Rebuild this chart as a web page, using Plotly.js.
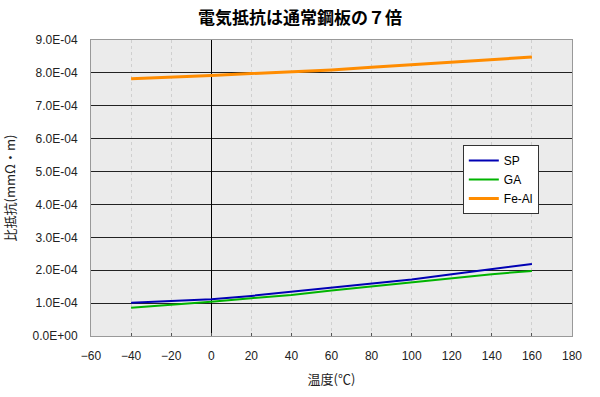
<!DOCTYPE html>
<html><head><meta charset="utf-8">
<script src="https://cdn.plot.ly/plotly-3.0.1.min.js"></script>
<style>html,body{margin:0;padding:0;background:#fff}#c{width:600px;height:397px}</style>
</head><body><div id="c"></div>
<script>
const temps = [-40, -20, 0, 20, 40, 60, 80, 100, 120, 140, 160];
const sp   = [1.01e-4, 1.06e-4, 1.12e-4, 1.22e-4, 1.35e-4, 1.47e-4, 1.60e-4, 1.72e-4, 1.88e-4, 2.03e-4, 2.19e-4];
const ga   = [0.86e-4, 0.94e-4, 1.04e-4, 1.15e-4, 1.25e-4, 1.38e-4, 1.51e-4, 1.64e-4, 1.77e-4, 1.88e-4, 1.98e-4];
const feal = [7.82e-4, 7.86e-4, 7.92e-4, 7.98e-4, 8.03e-4, 8.09e-4, 8.17e-4, 8.25e-4, 8.32e-4, 8.40e-4, 8.48e-4];
const yTickVals = [0, 1e-4, 2e-4, 3e-4, 4e-4, 5e-4, 6e-4, 7e-4, 8e-4, 9e-4];
const yTickText = ['0.0E+00','1.0E-04','2.0E-04','3.0E-04','4.0E-04','5.0E-04','6.0E-04','7.0E-04','8.0E-04','9.0E-04'];
const xTickVals = [-60,-40,-20,0,20,40,60,80,100,120,140,160,180];

const traces = [
  {x: temps, y: sp, name: 'SP', mode: 'lines', line: {color: '#0000b4', width: 2}},
  {x: temps, y: ga, name: 'GA', mode: 'lines', line: {color: '#00b400', width: 2}},
  {x: temps, y: feal, name: 'Fe-Al', mode: 'lines', line: {color: '#ff8c00', width: 3}}
];
const jp = "'Noto Sans CJK JP', 'DejaVu Sans', sans-serif";
const num = "'Liberation Sans', Arial, sans-serif";
const layout = {
  width: 600, height: 397,
  margin: {l: 91, r: 28, t: 40, b: 61},
  paper_bgcolor: '#ffffff', plot_bgcolor: '#ebebeb',
  font: {family: num, size: 12, color: '#222'},
  title: {text: '<b>電気抵抗は通常鋼板の７倍</b>', x: 0.5, xanchor: 'center', y: 0.955, yanchor: 'middle', font: {size: 17, color: '#000', family: jp}},
  showlegend: true,
  legend: {x: 0.773, y: 0.645, xanchor: 'left', yanchor: 'top', bgcolor: '#ffffff', bordercolor: '#333', borderwidth: 1, font: {size: 12, color: '#000', family: num}, tracegroupgap: 0},
  xaxis: {
    range: [-60, 180], tickvals: xTickVals, ticks: 'inside', ticklen: 3, tickcolor: '#555', ticklabelstandoff: 9,
    showgrid: true, gridcolor: '#cfcfcf', griddash: '3px,3px', gridwidth: 1,
    zeroline: true, zerolinecolor: '#000', zerolinewidth: 1,
    showline: true, linecolor: '#999', mirror: true, linewidth: 1,
    tickfont: {size: 12, color: '#222', family: num},
    title: {text: '温度(℃)', font: {size: 13, color: '#222', family: jp}, standoff: 12}
  },
  yaxis: {
    range: [0, 9e-4], tickvals: yTickVals, ticktext: yTickText, ticks: '', ticklabelstandoff: 10,
    showgrid: true, gridcolor: '#222', gridwidth: 1,
    zeroline: true, zerolinecolor: '#333', zerolinewidth: 1,
    showline: true, linecolor: '#999', mirror: true, linewidth: 1,
    tickfont: {size: 12, color: '#222', family: num},
    title: {text: '比抵抗(mmΩ・m)', font: {size: 13, color: '#222', family: jp}, standoff: 14}
  }
};
Plotly.newPlot('c', traces, layout, {displayModeBar: false, staticPlot: true});
</script>
</body></html>
